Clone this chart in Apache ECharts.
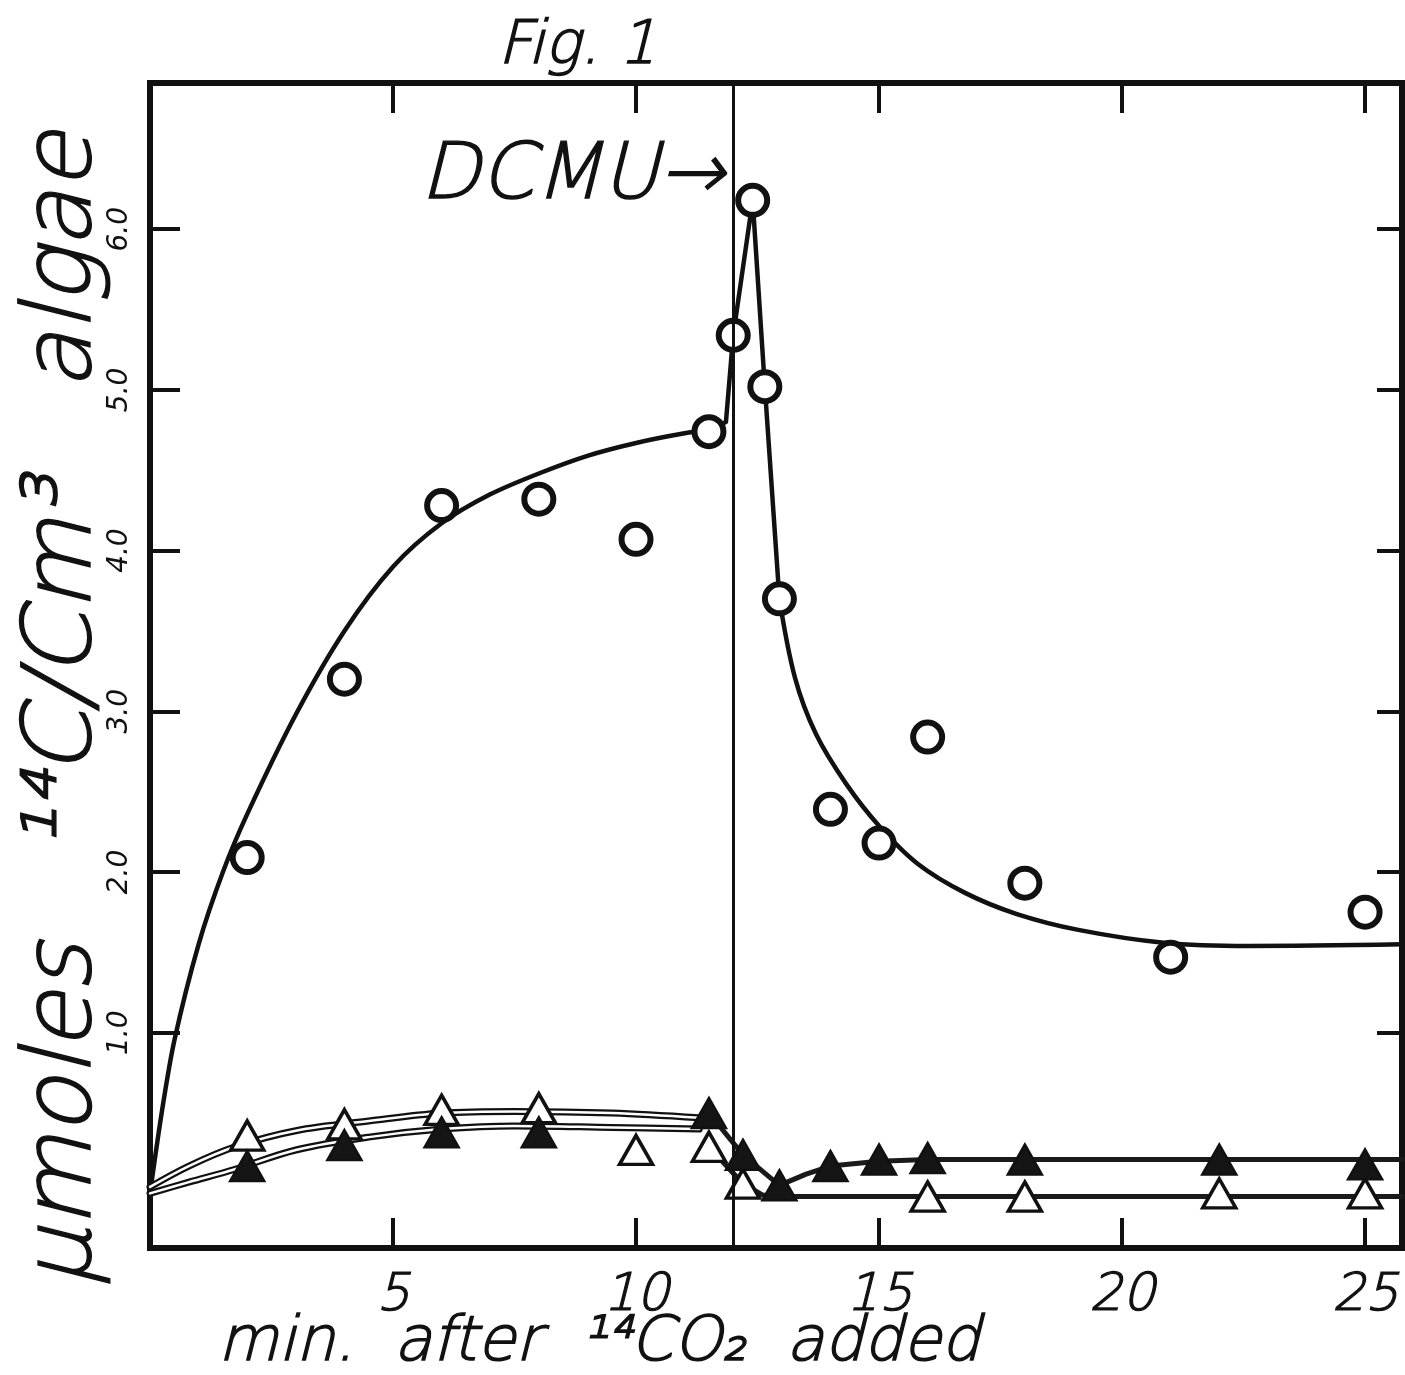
<!DOCTYPE html>
<html>
<head>
<meta charset="utf-8">
<title>Fig. 1</title>
<script src="https://cdn.jsdelivr.net/npm/echarts@6/dist/echarts.min.js"></script>
<style>
  html, body { margin: 0; padding: 0; background: #fff; }
  #chart { width: 1405px; height: 1375px; }
</style>
</head>
<body>
<div id="chart"></div>
<script>
// axis ticks
const xTicks = [5, 10, 15, 20, 25];
const yTicks = [1, 2, 3, 4, 5, 6];
const dcmuTime = 12;

// open circles: total 14C fixed
const circleX = [2, 4, 6, 8, 10, 11.5, 12, 12.4, 12.65, 12.95, 14, 15, 16, 18, 21, 25];
const circleY = [2.09, 3.2, 4.28, 4.32, 4.07, 4.74, 5.34, 6.18, 5.02, 3.7, 2.39, 2.18, 2.84, 1.93, 1.47, 1.75];

// filled triangles
const filledX = [2, 4, 6, 8, 11.5, 12.2, 12.95, 14, 15, 16, 18, 22, 25];
const filledY = [0.17, 0.3, 0.38, 0.38, 0.5, 0.24, 0.05, 0.17, 0.21, 0.22, 0.21, 0.21, 0.18];

// open triangles
const openX = [2, 4, 6, 8, 10, 11.5, 12.2, 16, 18, 22, 25];
const openY = [0.36, 0.43, 0.52, 0.53, 0.27, 0.29, 0.06, -0.02, -0.02, 0, 0];

// hand drawn curve through the circles
const riseX = [0, 0.25, 0.5, 1, 1.5, 2, 3, 4, 5, 6, 7, 8, 9, 10, 11, 11.5];
const riseY = [0, 0.52, 0.95, 1.55, 2.0, 2.36, 2.98, 3.5, 3.9, 4.17, 4.35, 4.48, 4.59, 4.67, 4.73, 4.75];
const spikeX = [11.5, 11.85, 12, 12.4, 12.65, 12.95];
const spikeY = [4.75, 4.8, 5.34, 6.18, 5.02, 3.7];
const decayX = [12.95, 13.27, 13.7, 14.32, 15.02, 15.8, 16.77, 17.82, 19.1, 20.86, 22.6, 25.76];
const decayY = [3.7, 3.21, 2.86, 2.55, 2.28, 2.05, 1.87, 1.74, 1.64, 1.56, 1.54, 1.55];

// curves through the triangles
const triPreX = [0, 0.8, 1.75, 3, 4.5, 6, 7.5, 9.5, 11.3];
const openPreY = [0.04, 0.17, 0.29, 0.39, 0.45, 0.5, 0.51, 0.5, 0.47];
const filledPreY = [0, 0.07, 0.15, 0.27, 0.35, 0.4, 0.42, 0.41, 0.4];
const filledPostX = [11.5, 12.2, 12.95, 13.5, 14, 15, 16, 25.76];
const filledPostY = [0.5, 0.24, 0.05, 0.12, 0.17, 0.2, 0.21, 0.21];
const openPostX = [11.5, 12.2, 12.6, 13.2, 25.76];
const openPostY = [0.29, 0.06, -0.01, -0.02, -0.02];

const ink = '#111';
const hand = '"DejaVu Sans ExtraLight", "DejaVu Sans Light", "DejaVu Sans", sans-serif';
const pairs = (xs, ys) => xs.map((x, i) => [x, ys[i]]);

const chart = echarts.init(document.getElementById('chart'));

function curve(data, width, color, smooth, z) {
  return {
    type: 'line',
    data: data,
    showSymbol: false,
    smooth: smooth,
    lineStyle: { color: color, width: width, cap: 'round', join: 'round', opacity: 1 },
    silent: true,
    z: z,
  };
}

// handwritten-looking text: thin face plus a light outline
function note(text, x, y, size, align, rotation) {
  return {
    type: 'text',
    x: x,
    y: y,
    rotation: rotation || 0,
    style: {
      text: text,
      font: 'italic 200 ' + size + 'px ' + hand,
      fill: ink,
      stroke: ink,
      lineWidth: 1.4,
      textAlign: align,
      textVerticalAlign: 'middle',
    },
  };
}

const ticks = (len, vals) => ({
  inside: true,
  length: len,
  customValues: vals,
  lineStyle: { color: ink, width: 4 },
});

const noLine = { show: false, onZero: false };

const option = {
  animation: false,
  backgroundColor: '#fff',
  grid: {
    left: 150,
    right: 3,
    top: 83,
    bottom: 127,
    containLabel: false,
    outerBoundsMode: 'none',
    show: true,
    borderColor: ink,
    borderWidth: 6,
    backgroundColor: 'transparent',
  },
  xAxis: [
    {
      type: 'value',
      position: 'bottom',
      min: 0,
      max: 25.76,
      interval: 5,
      axisLine: noLine,
      axisTick: ticks(30, xTicks),
      splitLine: { show: false },
      axisLabel: {
        customValues: xTicks,
        margin: 22,
        color: ink,
        fontFamily: hand,
        fontStyle: 'italic',
        fontWeight: 200,
        fontSize: 52,
        textBorderColor: ink,
        textBorderWidth: 1.2,
        formatter: (v) => (v === 0 ? '' : String(v)),
      },
    },
    {
      type: 'value',
      position: 'top',
      min: 0,
      max: 25.76,
      interval: 5,
      axisLine: noLine,
      axisTick: ticks(30, xTicks),
      splitLine: { show: false },
      axisLabel: { show: false },
    },
  ],
  yAxis: [
    {
      type: 'value',
      position: 'left',
      min: -0.34,
      max: 6.91,
      axisLine: noLine,
      axisTick: ticks(30, yTicks),
      splitLine: { show: false },
      axisLabel: {
        customValues: yTicks,
        rotate: 90,
        margin: 16,
        color: ink,
        fontFamily: '"DejaVu Sans", sans-serif',
        fontStyle: 'italic',
        fontSize: 28,
        formatter: (v) => v.toFixed(1),
      },
    },
    {
      type: 'value',
      position: 'right',
      min: -0.34,
      max: 6.91,
      axisLine: noLine,
      axisTick: ticks(25, yTicks),
      splitLine: { show: false },
      axisLabel: { show: false },
    },
  ],
  graphic: [
    note('Fig. 1', 577, 47, 60, 'center'),
    note('DCMU→', 724, 178, 78, 'right'),
    note('min.  after  ¹⁴CO₂  added', 599, 1344, 62, 'center'),
    note('μmoles   ¹⁴C/Cm³   algae', 65, 710, 95, 'center', Math.PI / 2),
  ],
  series: [
    // DCMU line
    {
      type: 'line',
      data: [],
      silent: true,
      z: 1,
      markLine: {
        silent: true,
        symbol: ['none', 'none'],
        label: { show: false },
        lineStyle: { color: ink, width: 3, type: 'solid', opacity: 1 },
        data: [{ xAxis: dcmuTime }],
      },
    },
    curve(pairs(riseX, riseY), 4.5, ink, 0.3, 2),
    curve(pairs(spikeX, spikeY), 4.5, ink, false, 2),
    curve(pairs(decayX, decayY), 4.5, ink, 0.35, 2),
    // hollow double-stroke curves before DCMU
    curve(pairs(triPreX, openPreY), 7, ink, 0.35, 2),
    curve(pairs(triPreX, openPreY), 2.5, '#fff', 0.35, 2),
    curve(pairs(triPreX, filledPreY), 7, ink, 0.35, 2),
    curve(pairs(triPreX, filledPreY), 2.5, '#fff', 0.35, 2),
    curve(pairs(filledPostX, filledPostY), 5, '#1a1a1a', false, 2),
    curve(pairs(openPostX, openPostY), 5, '#1a1a1a', false, 2),
    {
      name: 'circles',
      type: 'scatter',
      data: pairs(circleX, circleY),
      symbol: 'circle',
      symbolSize: 29,
      itemStyle: { color: '#fff', borderColor: ink, borderWidth: 6, opacity: 1 },
      z: 4,
    },
    {
      name: 'open triangles',
      type: 'scatter',
      data: pairs(openX, openY),
      symbol: 'triangle',
      symbolSize: [33, 29],
      itemStyle: { color: '#fff', borderColor: ink, borderWidth: 3.5, opacity: 1 },
      z: 4,
    },
    {
      name: 'filled triangles',
      type: 'scatter',
      data: pairs(filledX, filledY),
      symbol: 'triangle',
      symbolSize: [34, 30],
      itemStyle: { color: '#151515', borderColor: ink, borderWidth: 2.5, opacity: 1 },
      z: 5,
    },
  ],
};

chart.setOption(option);

window.addEventListener('resize', () => {
  chart.resize();
});
</script>
</body>
</html>
